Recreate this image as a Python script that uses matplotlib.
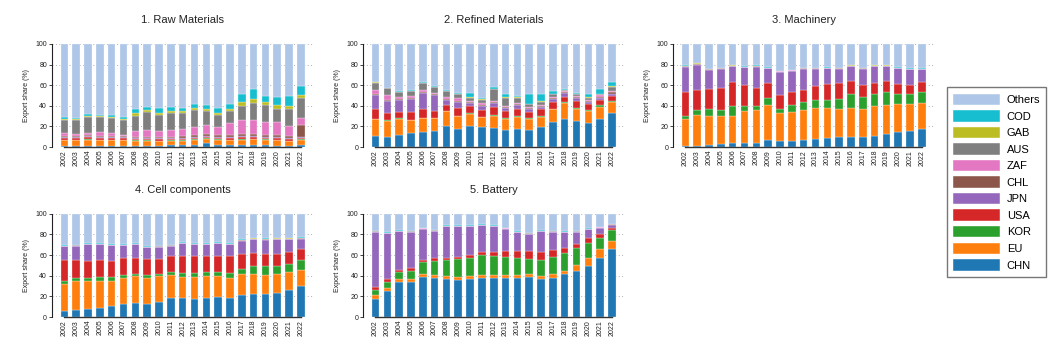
import matplotlib
matplotlib.use("Agg")
import matplotlib.pyplot as plt
from matplotlib.patches import Patch
import numpy as np

plt.rcParams["font.family"] = ["Liberation Sans", "DejaVu Sans"]

years = [str(y) for y in range(2002, 2023)]
countries = ["CHN", "EU", "KOR", "USA", "JPN", "CHL", "ZAF", "AUS", "GAB", "COD"]
colors = {
    "CHN": "#1f77b4", "EU": "#ff7f0e", "KOR": "#2ca02c", "USA": "#d62728",
    "JPN": "#9467bd", "CHL": "#8c564b", "ZAF": "#e377c2", "AUS": "#7f7f7f",
    "GAB": "#bcbd22", "COD": "#17becf", "Others": "#aec7e8",
}
titles = ["1. Raw Materials", "2. Refined Materials", "3. Machinery",
          "4. Cell components", "5. Battery"]

# --- 1. Raw Materials (export share, %) ---
raw_chn = [1.5, 1.5, 1.5, 1.5, 1.5, 1.5, 1.5, 1.5, 1.5, 2, 2, 2.5, 3.5, 2.5, 2, 2, 2, 2, 1.5, 1.5, 2]
raw_eu = [5, 5, 5.5, 5, 5, 5, 4.5, 4.5, 4, 4, 4, 4.5, 4.5, 4.5, 4.5, 5, 5.5, 5, 5, 4, 5]
raw_kor = [0.5, 0.5, 0.5, 0.5, 0.5, 0.5, 0.5, 0.5, 0.5, 0.5, 0.5, 0.5, 0.5, 0.5, 0.5, 0.5, 0.5, 0.5, 0.5, 0.5, 0.5]
raw_usa = [2, 2, 2.5, 2, 1.5, 1.5, 1.5, 1.5, 1.5, 1.5, 1.5, 1.5, 1.5, 1.5, 1.5, 2, 1.5, 1.5, 1.5, 1.5, 1.5]
raw_jpn = [1, 1, 1, 1, 1, 1, 1, 1, 1, 1, 1, 1, 1, 1, 1, 1, 1, 1, 1, 1, 1]
raw_chl = [1, 1, 1, 1, 1, 1, 1, 1, 1, 1, 1.5, 1.5, 1.5, 1.5, 2, 2, 2, 2, 2.5, 2.5, 11]
raw_zaf = [2.5, 1.5, 2, 3.5, 3, 1.5, 6, 6.5, 6.5, 6.5, 7, 8, 8.5, 8, 12, 13.5, 14, 12.5, 12, 9.5, 7]
raw_aus = [12.5, 13.5, 15, 14.5, 14.5, 14, 14, 17.5, 15, 16.5, 15.5, 16.5, 14, 11.5, 11.5, 14, 16.5, 16, 13, 16.5, 19.5]
raw_gab = [1.5, 1, 1.5, 1, 1.5, 1, 3, 1.5, 2.5, 2, 2, 2, 1.5, 2, 2, 3.5, 3.5, 3.5, 4, 3, 2.5]
raw_cod = [1.5, 1, 1.5, 1.5, 1.5, 2, 3.5, 3, 4, 3.5, 3, 3.5, 4, 4.5, 5, 8, 9.5, 5.5, 7.5, 9.5, 9]

# --- 2. Refined Materials ---
ref_chn = [10.3, 10, 12, 14, 15, 16, 20, 17.5, 20, 19, 18.5, 17, 18, 17, 19, 24, 27, 25, 23, 27, 33.5]
ref_eu = [16.7, 15.5, 15.5, 12, 13, 12, 14.5, 12.5, 12.5, 10, 12, 10.5, 11, 10.5, 10.5, 12.5, 15.5, 11.5, 11.5, 11.5, 10]
ref_kor = [0.5, 0.5, 0.5, 0.5, 0.5, 0.5, 0.5, 0.5, 0.5, 0.5, 0.5, 0.5, 1.5, 0.5, 0.5, 0.5, 1, 1, 1.5, 2, 1]
ref_usa = [9.3, 7, 6, 7.5, 8.5, 6.5, 5.5, 7, 6.5, 6.5, 7.5, 6.5, 6, 6, 6.5, 7, 5.5, 7.5, 6, 5.5, 5]
ref_jpn = [13.8, 12, 12, 12.5, 15, 15.5, 5.5, 6.5, 3.5, 4, 4, 3.5, 4, 3, 2.5, 3, 3, 3, 2, 2, 2]
ref_chl = [1, 1, 1, 1, 1, 1, 1, 1, 1, 1, 1, 1, 1, 1, 1, 1, 1, 1, 1, 1, 1.5]
ref_zaf = [3.9, 4, 2, 2, 2, 1, 2, 2.5, 1, 2, 1.5, 1, 1, 1, 1, 1, 1, 0.5, 1, 1, 1]
ref_aus = [7, 7, 4, 4.5, 7, 5.5, 5.5, 4, 3, 3, 11, 8, 5.5, 2.5, 3, 2, 1.5, 1.5, 2, 1.5, 4.5]
ref_gab = [0.3, 0.3, 0.3, 0.3, 0.3, 0.3, 0.3, 0.3, 0.3, 0.3, 0.3, 0.3, 0.3, 0.3, 0.3, 0.3, 0.3, 0.3, 0.3, 0.3, 0.3]
ref_cod = [0.7, 0.4, 0.7, 0.7, 0.7, 0.7, 0.7, 0.7, 3.7, 1.7, 1.7, 3.2, 1.2, 9.7, 7.2, 3.2, 0.7, 1.2, 3.2, 4.7, 4.2]

# --- 3. Machinery ---
mac_chn = [0.8, 1.5, 2, 3, 3.5, 3.5, 3.5, 6.5, 5.5, 6, 6.5, 7.5, 8.5, 9.5, 9.5, 9.5, 10.5, 12.5, 14.5, 15.5, 17.5]
mac_eu = [26.2, 29.5, 28, 27, 26.5, 31.5, 32.5, 34, 27.5, 28, 29, 30, 29.5, 27.5, 28.5, 27.5, 29.5, 28.5, 27.5, 26.5, 25.5]
mac_kor = [3, 5, 7, 6, 9.5, 5, 4, 7.5, 4, 6.5, 8.5, 8.5, 8, 10, 13.5, 11.5, 11.5, 12.5, 9.5, 9, 10]
mac_usa = [23.5, 19.5, 19, 21, 24, 20, 17.5, 14, 13.5, 13, 11, 13.5, 15, 15, 12.5, 11.5, 10.5, 10.5, 10, 9.5, 10]
mac_jpn = [24.5, 24.5, 19, 19, 15, 17.5, 20.5, 14.5, 22.5, 20.5, 21, 16.5, 15.5, 14, 14.5, 16, 16.5, 14.5, 15, 15, 12.5]
mac_chl = [0.2, 0.3, 0.2, 0.2, 0.2, 0.2, 0.2, 0.2, 0.2, 0.2, 0.2, 0.2, 0.2, 0.2, 0.2, 0.2, 0.2, 0.2, 0.2, 0.2, 0.2]
mac_zaf = [0.1, 0.2, 0.1, 0.1, 0.1, 0.1, 0.1, 0.1, 0.1, 0.1, 0.1, 0.1, 0.1, 0.1, 0.1, 0.1, 0.1, 0.1, 0.1, 0.1, 0.1]
mac_aus = [0.2, 0.2, 0.2, 0.2, 0.2, 0.2, 0.2, 0.2, 0.2, 0.2, 0.2, 0.2, 0.2, 0.2, 0.2, 0.2, 0.2, 0.2, 0.2, 0.2, 0.2]
mac_gab = [0.1, 0.5, 0.1, 0.1, 0.1, 0.1, 0.1, 0.1, 0.1, 0.1, 0.1, 0.1, 0.1, 0.1, 0.1, 0.1, 0.1, 0.1, 0.1, 0.1, 0.1]
mac_cod = [0.5, 0.3, 0.5, 0.5, 0.5, 0.5, 0.5, 0.5, 0.5, 0.5, 0.5, 0.5, 0.5, 0.5, 0.5, 0.5, 0.5, 0.5, 0.5, 0.5, 0.5]

# --- 4. Cell components ---
cel_chn = [5.5, 6.5, 7.5, 9, 10.5, 12.5, 14, 12.5, 15, 18, 18, 17, 18, 19, 18.5, 21, 22.5, 22, 23, 26, 30.5]
cel_eu = [26.5, 28, 27, 25.5, 24, 25, 25.5, 25, 24.5, 22.5, 20.5, 21.5, 21.5, 20.5, 19, 20.5, 19.5, 19, 18.5, 17.5, 15.5]
cel_kor = [2.5, 3, 3, 4, 4, 3, 2.5, 3, 2.5, 3.5, 4.5, 4.5, 4, 4.5, 5.5, 5.5, 7, 8, 7.5, 7.5, 9]
cel_usa = [21, 17.5, 17, 17, 16, 17, 15.5, 15.5, 14.5, 15, 16, 16.5, 15.5, 15.5, 16.5, 14.5, 13.5, 12.5, 12.5, 12.5, 11]
cel_jpn = [13, 14, 16, 15, 15, 12, 13, 11.5, 11.5, 10, 12.5, 11, 11.5, 12, 11, 12.5, 13, 13.5, 14, 12, 10]
cel_chl = [0.2, 0.2, 0.2, 0.2, 0.2, 0.2, 0.2, 0.2, 0.2, 0.2, 0.2, 0.2, 0.2, 0.2, 0.2, 0.2, 0.2, 0.2, 0.2, 0.2, 0.2]
cel_zaf = [0.1, 0.1, 0.1, 0.1, 0.1, 0.1, 0.1, 0.1, 0.1, 0.1, 0.1, 0.1, 0.1, 0.1, 0.1, 0.1, 0.1, 0.1, 0.1, 0.1, 0.1]
cel_aus = [0.3, 0.3, 0.3, 0.3, 0.3, 0.3, 0.3, 0.3, 0.3, 0.3, 0.3, 0.3, 0.3, 0.3, 0.3, 0.3, 0.3, 0.3, 0.3, 0.3, 0.3]
cel_gab = [0.1, 0.1, 0.1, 0.1, 0.1, 0.1, 0.1, 0.1, 0.1, 0.1, 0.1, 0.1, 0.1, 0.1, 0.1, 0.1, 0.1, 0.1, 0.1, 0.1, 0.1]
cel_cod = [0.5, 0.5, 0.5, 0.5, 0.5, 0.5, 0.5, 0.5, 0.5, 0.5, 0.5, 0.5, 0.5, 0.5, 0.5, 0.5, 0.5, 0.5, 0.5, 0.5, 0.5]

# --- 5. Battery ---
bat_chn = [17, 25.5, 34, 34, 39, 38, 37, 35.5, 37, 38, 38, 38, 38, 39, 36.5, 38, 42, 45, 49, 57, 66]
bat_eu = [4, 3, 3, 3, 3, 3, 3, 3.5, 3, 3, 3, 3, 3, 3, 3.5, 3.5, 3, 5, 8, 9, 8]
bat_kor = [5, 5.5, 7, 8, 11, 13.5, 15, 17, 17.5, 19, 18.5, 17.5, 16.5, 14.5, 15.5, 17, 17, 16.5, 15, 11, 10]
bat_usa = [3.5, 3, 2, 2.5, 2, 2.5, 2.5, 2.5, 3, 3, 3.5, 5.5, 6.5, 7.5, 7.5, 6.5, 5, 4.5, 4.5, 3, 2]
bat_jpn = [53, 44, 37, 35, 30.5, 26.5, 30.5, 29.5, 27.5, 26, 25, 21.5, 18, 16.5, 20, 17.5, 15, 11.5, 8.5, 6.5, 3.5]
bat_chl = [0.2, 0.2, 0.2, 0.2, 0.2, 0.2, 0.2, 0.2, 0.2, 0.2, 0.2, 0.2, 0.2, 0.2, 0.2, 0.2, 0.2, 0.2, 0.2, 0.2, 0.2]
bat_zaf = [0.1, 0.1, 0.1, 0.1, 0.1, 0.1, 0.1, 0.1, 0.1, 0.1, 0.1, 0.1, 0.1, 0.1, 0.1, 0.1, 0.1, 0.1, 0.1, 0.1, 0.1]
bat_aus = [0.2, 0.2, 0.2, 0.2, 0.2, 0.2, 0.2, 0.2, 0.2, 0.2, 0.2, 0.2, 0.2, 0.2, 0.2, 0.2, 0.2, 0.2, 0.2, 0.2, 0.2]
bat_gab = [0.1, 0.1, 0.1, 0.1, 0.1, 0.1, 0.1, 0.1, 0.1, 0.1, 0.1, 0.1, 0.1, 0.1, 0.1, 0.1, 0.1, 0.1, 0.1, 0.1, 0.1]
bat_cod = [0.4, 0.4, 0.4, 0.4, 0.4, 0.4, 0.4, 0.4, 0.4, 0.4, 0.4, 0.4, 0.4, 0.4, 0.4, 0.4, 0.4, 0.4, 0.4, 0.4, 0.4]

panels = [
    [raw_chn, raw_eu, raw_kor, raw_usa, raw_jpn, raw_chl, raw_zaf, raw_aus, raw_gab, raw_cod],
    [ref_chn, ref_eu, ref_kor, ref_usa, ref_jpn, ref_chl, ref_zaf, ref_aus, ref_gab, ref_cod],
    [mac_chn, mac_eu, mac_kor, mac_usa, mac_jpn, mac_chl, mac_zaf, mac_aus, mac_gab, mac_cod],
    [cel_chn, cel_eu, cel_kor, cel_usa, cel_jpn, cel_chl, cel_zaf, cel_aus, cel_gab, cel_cod],
    [bat_chn, bat_eu, bat_kor, bat_usa, bat_jpn, bat_chl, bat_zaf, bat_aus, bat_gab, bat_cod],
]

fig = plt.figure(figsize=(10.56, 3.57), dpi=100)
fig.patch.set_facecolor("white")

lefts = [0.0492, 0.3438, 0.6373]
width = 0.2475
bottoms = [0.588, 0.112]
height = 0.289

x = np.arange(len(years))
for i, (title, series) in enumerate(zip(titles, panels)):
    row, col = divmod(i, 3)
    ax = fig.add_axes([lefts[col], bottoms[row], width, height])
    base = np.zeros(len(years))
    for name, vals in zip(countries, series):
        v = np.array(vals, dtype=float)
        ax.bar(x, v, bottom=base, width=0.64, color=colors[name],
               edgecolor="white", linewidth=0.2, zorder=2)
        base += v
    # remaining share goes to "Others"
    others = 100.0 - base
    ax.bar(x, others, bottom=base, width=0.64, color=colors["Others"],
           edgecolor="white", linewidth=0.2, zorder=2)

    ax.set_xlim(-1.05, 21.05)
    ax.set_ylim(0, 100)
    ax.set_yticks([0, 20, 40, 60, 80, 100])
    ax.set_xticks(x)
    ax.set_xticklabels(years, rotation=90)
    ax.tick_params(axis="both", labelsize=5, colors="#222222", width=0.6)
    ax.tick_params(axis="y", length=2.5, pad=1)
    ax.tick_params(axis="x", length=0, pad=2)
    ax.set_ylabel("Export share (%)", fontsize=5, labelpad=4, color="#222222")
    ax.set_title(title, fontsize=8, pad=15, color="#222222")
    ax.grid(axis="y", linestyle=(0, (1, 2.5)), color="#b0b0b0", linewidth=0.7, zorder=0)
    ax.set_axisbelow(True)
    for s in ("top", "right"):
        ax.spines[s].set_visible(False)
    ax.spines["left"].set_bounds(0, 100)
    ax.spines["left"].set_linewidth(0.8)
    ax.spines["left"].set_color("#222222")
    ax.spines["bottom"].set_bounds(0, 20)
    ax.spines["bottom"].set_linewidth(1.0)
    ax.spines["bottom"].set_color("#333333")
    ax.spines["bottom"].set_zorder(3)

legend_order = ["Others", "COD", "GAB", "AUS", "ZAF", "CHL", "JPN", "USA", "KOR", "EU", "CHN"]
handles = [Patch(facecolor=colors[n], edgecolor="white", linewidth=0.3, label=n)
           for n in legend_order]
fig.legend(handles=handles, loc="center", bbox_to_anchor=(0.9437, 0.490),
           fontsize=8, frameon=True, fancybox=False, edgecolor="#555555",
           handlelength=4.2, handleheight=1.2, labelspacing=0.46,
           handletextpad=0.65, borderpad=0.55)

fig.savefig("out.png", dpi=100, facecolor=fig.get_facecolor())
